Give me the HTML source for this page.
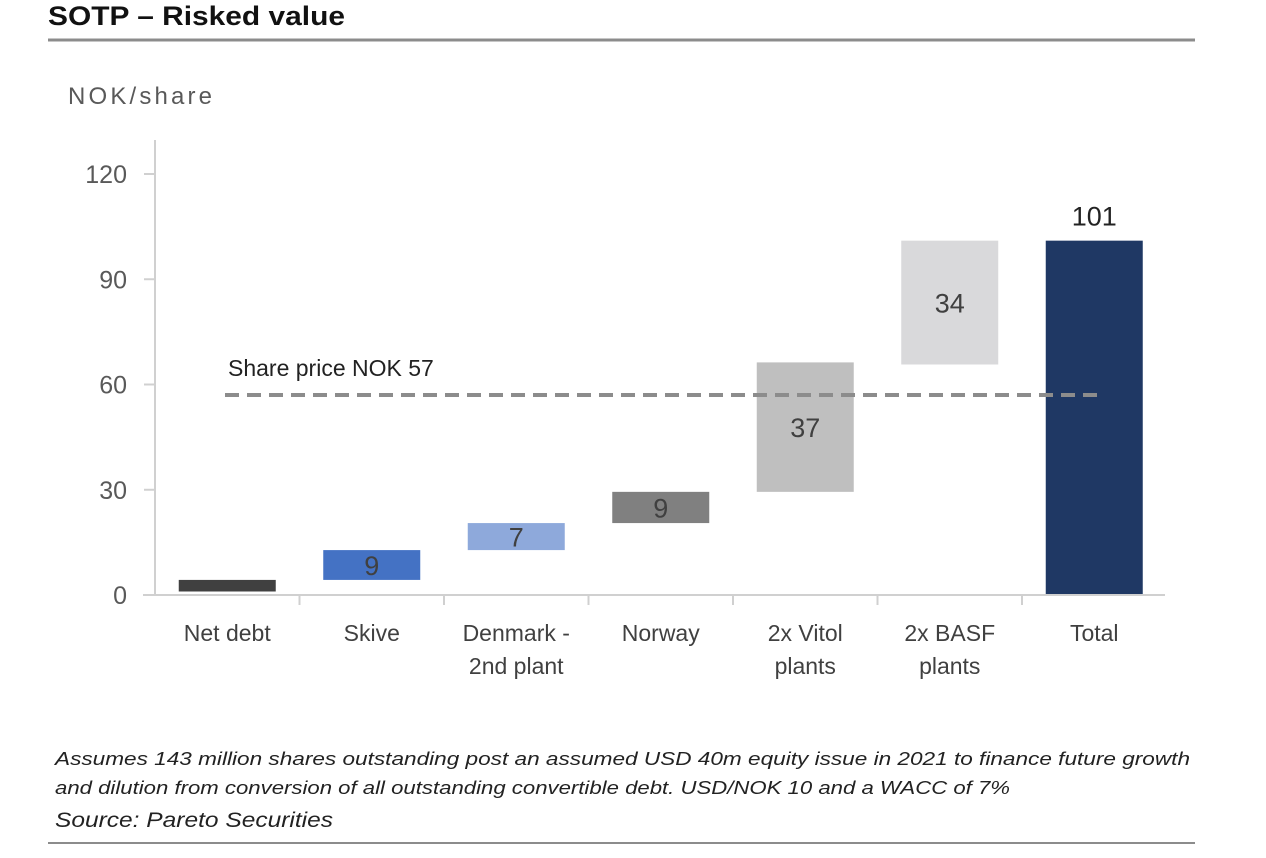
<!DOCTYPE html>
<html><head><meta charset="utf-8"><style>
body{margin:0;background:#fff;width:1266px;height:853px;overflow:hidden;font-family:"Liberation Sans",sans-serif}
svg text{font-family:"Liberation Sans",sans-serif}
</style></head><body>
<svg id="c" width="1266" height="853">
<text x="48" y="25" font-size="27" font-weight="bold" fill="#111" textLength="297" lengthAdjust="spacingAndGlyphs">SOTP – Risked value</text>
<line x1="48" y1="40" x2="1195" y2="40" stroke="#8c8c8c" stroke-width="3"/>
<text x="68" y="104" font-size="24" fill="#595959" textLength="144" lengthAdjust="spacing">NOK/share</text>
<g id="plot"></g>
<text x="55" y="765" font-size="18" font-style="italic" fill="#222" textLength="1135" lengthAdjust="spacingAndGlyphs">Assumes 143 million shares outstanding post an assumed USD 40m equity issue in 2021 to finance future growth</text>
<text x="55" y="794" font-size="18" font-style="italic" fill="#222" textLength="955" lengthAdjust="spacingAndGlyphs">and dilution from conversion of all outstanding convertible debt. USD/NOK 10 and a WACC of 7%</text>
<text x="55" y="827" font-size="21" font-style="italic" fill="#222" textLength="278" lengthAdjust="spacingAndGlyphs">Source: Pareto Securities</text>
<line x1="48" y1="843" x2="1195" y2="843" stroke="#8c8c8c" stroke-width="2"/>
</svg>
<script>
const categories=[["Net debt"],["Skive"],["Denmark -","2nd plant"],["Norway"],["2x Vitol","plants"],["2x BASF","plants"],["Total"]];
const barStarts=[1,4.3,12.8,20.5,29.4,65.7,0];
const barEnds=[4.3,12.8,20.5,29.4,66.3,101,101];
const printed=["","9","7","9","37","34","101"];
const colors=["#404040","#4472C4","#8EA9DB","#808080","#BFBFBF","#D9D9DB","#1F3864"];
const yTicks=[0,30,60,90,120];
const sharePrice=57;
const NS="http://www.w3.org/2000/svg";
const g=document.getElementById('plot');
const y=v=>595-v*(421/120);
const band=144.5, x0=155;
const xc=i=>x0+band*(i+0.5);
function mk(t,a){const e=document.createElementNS(NS,t);for(const k in a)e.setAttribute(k,a[k]);g.appendChild(e);return e;}
let ax=mk('line',{x1:155,y1:140,x2:155,y2:595,stroke:'#d0d0d0','stroke-width':2});


yTicks.forEach(v=>{
 let t=mk('line',{x1:144,y1:y(v),x2:155,y2:y(v),stroke:'#d0d0d0','stroke-width':2});
 
 
 let l=mk('text',{x:127,y:y(v)+9,'font-size':25,fill:'#595959','text-anchor':'end'});l.textContent=v;
 
 
});
categories.forEach((c,i)=>{
 const top=y(barEnds[i]),bot=y(barStarts[i]);
 let r=mk('rect',{x:xc(i)-48.5,y:top,width:97,height:bot-top,fill:colors[i]});
 
 
 if(printed[i]){
  const isTot=i===categories.length-1;
  let t=mk('text',{x:xc(i),y:isTot?top-15:(top+bot)/2+10,'font-size':27,fill:isTot?'#222':'#404040','text-anchor':'middle'});
  t.textContent=printed[i];
  
  
 }
 c.forEach((s,j)=>{
  let t=mk('text',{x:xc(i),y:641+j*33,'font-size':23,fill:'#404040','text-anchor':'middle'});t.textContent=s;
  
  
 });
 if(i>0){let k=mk('line',{x1:x0+band*i,y1:595,x2:x0+band*i,y2:605,stroke:'#d0d0d0','stroke-width':2});
 
 }
});
let xa=mk('line',{x1:143,y1:595,x2:1165,y2:595,stroke:'#d0d0d0','stroke-width':2});


let d=mk('line',{x1:225,y1:y(sharePrice),x2:1097,y2:y(sharePrice),stroke:'#8c8c8c','stroke-width':4,'stroke-dasharray':'14 8'});


let dl=mk('text',{x:228,y:y(sharePrice)-19,'font-size':23,fill:'#222'});dl.textContent='Share price NOK '+sharePrice;


</script>
</body></html>
